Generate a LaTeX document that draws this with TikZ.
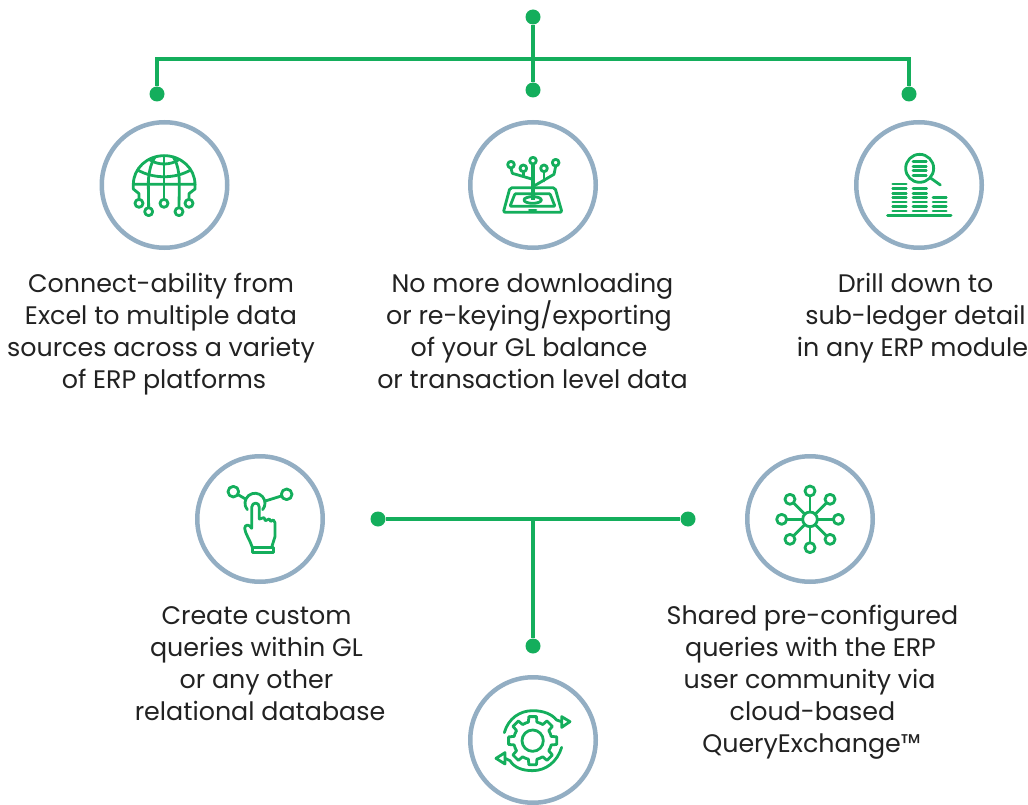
\documentclass[tikz,border=0pt]{standalone}
\usepackage{fontspec}
\usetikzlibrary{calc}
\setmainfont{Poppins}
\definecolor{grn}{HTML}{14AE5C}
\definecolor{ring}{HTML}{93AEC3}
\definecolor{ink}{HTML}{222222}
\tikzset{
  ringnode/.style={circle,draw=ring,line width=4.5pt,minimum size=125.5pt,inner sep=0pt,fill=white},
  dot/.style={circle,fill=grn,minimum size=15pt,inner sep=0pt},
  wire/.style={draw=grn,line width=4.5pt},
  label/.style={align=center,text=ink,font=\fontsize{25.35}{32}\selectfont,inner sep=0pt},
  ico/.style={draw=grn,line width=2.8pt,line join=round,line cap=round},
  zoomed/.style={x=0.3333pt,y=-0.3333pt}
}
\newcommand{\lft}[1]{\rule{#1pt}{0pt}}
\begin{document}
\begin{tikzpicture}[x=1pt,y=-1pt]
\useasboundingbox (0,0) rectangle (1028,805);
\fill[white] (0,0) rectangle (1028,805);
% rings
\node[ringnode] (c1) at (164.5,185) {};
\node[ringnode] (c2) at (533,185) {};
\node[ringnode] (c3) at (919,185) {};
\node[ringnode] (c4) at (260,519) {};
\node[ringnode] (c5) at (810,519) {};
\node[ringnode] (c6) at (533,740) {};
% connectors top
\node[dot] (top) at (533,17) {};
\node[dot] (d1) at (157,94) {};
\node[dot] (d2) at (533,90) {};
\node[dot] (d3) at (909,94) {};
\coordinate (hub) at (533,59);
\draw[wire] (top) -- (d2);
\draw[wire,line join=miter] (d1) |- (hub) -| (d3);
% connectors bottom
\node[dot] (l) at (378,519) {};
\node[dot] (r) at (688,519) {};
\node[dot] (b) at (533,646) {};
\coordinate (hub2) at (533,519);
\draw[wire] (l) -- (r);
\draw[wire] (hub2) -- (b);
% labels
\node[label] (t1) at (161,334) {Connect-ability from\\Excel to multiple data\\sources across a variety\\\lft{6}of ERP platforms};
\node[label] (t2) at (532.5,330.5) {No more downloading\\or re-keying/exporting\lft{7}\\of your GL balance\lft{7}\\or transaction level data};
\node[label] (t3) at (912.5,318) {\lft{6}Drill down to\\\lft{6}sub-ledger detail\\in any ERP module};
\node[label] (t4) at (260,663.5) {Create custom\lft{7}\\queries within GL\lft{7}\\or any other\lft{7}\\relational database};
\node[label] (t5) at (812.5,682.5) {Shared pre-configured\\queries with the ERP\lft{4}\\user community via\lft{6}\\cloud-based\\QueryExchange™\lft{2}};
% icon 1: globe
\begin{scope}[shift={(90,115)},zoomed]
\draw[ico] (130,208) arc[start angle=180,end angle=360,x radius=92.5,y radius=86] -- cycle;
\draw[ico] (222,122) -- (222,253);
\draw[ico] (195,126) .. controls (180,150) and (175,180) .. (175,208) -- (176,278);
\draw[ico] (250,126) .. controls (265,150) and (268,180) .. (268,208) -- (267,278);
\draw[ico] (143,165) .. controls (190,192) and (255,192) .. (302,165);
\draw[ico] (180,135) .. controls (205,151) and (240,151) .. (265,135);
\draw[ico] (130,208) -- (130,222) -- (147,236) -- (147,253);
\draw[ico] (315,208) -- (315,222) -- (297,236) -- (297,253);
\draw[ico] (147,265) circle[radius=12];
\draw[ico] (176,290) circle[radius=12];
\draw[ico] (222,265) circle[radius=12];
\draw[ico] (267,290) circle[radius=12];
\draw[ico] (297,265) circle[radius=12];
\end{scope}
% icon 2: tree on tablet
\begin{scope}[shift={(460,115)},zoomed]
\draw[ico,rounded corners=2pt] (150,218) -- (285,218) -- (306,292) -- (130,292) -- cycle;
\draw[ico,rounded corners=1pt] (165,236) -- (270,236) -- (285,274) -- (150,274) -- cycle;
\draw[ico] (218,255) ellipse[x radius=26,y radius=10];
\draw[ico] (208,285) -- (228,285);
\draw[ico,line width=3.8pt,line cap=butt] (218.5,147) -- (218.5,256);
\draw[ico] (153,160) -- (157,175) -- (215,192);
\draw[ico] (190,171) -- (190,184);
\draw[ico] (252,171) -- (252,198);
\draw[ico] (287,154) -- (282,178) -- (222,213);
\foreach \p in {(219,137),(153,149),(190,160),(252,160),(287,143)}
  \draw[ico] \p circle[radius=10];
\end{scope}
% icon 3: ledger stacks
\begin{scope}[shift={(845,115)},zoomed]
\draw[ico,line width=3pt] (128,301) -- (318,301);
\foreach \y in {207,221,235,248,261,275,288} \draw[ico,line width=2.6pt] (143,\y) -- (184,\y);
\foreach \y in {221,235,248,261,275,288} \draw[ico,line width=2.6pt] (204,\y) -- (245,\y);
\foreach \y in {247,261,275,288} \draw[ico,line width=2.6pt] (264,\y) -- (304,\y);
\foreach \y in {140,154,167,181} \draw[ico,line width=2.6pt] (204,\y) -- (244,\y);
\draw[ico] (224,160) circle[radius=42];
\draw[ico] (258,190) -- (286,210);
\end{scope}
% icon 4: hand
\begin{scope}[shift={(190,450)},zoomed]
\draw[ico] (130,125) circle[radius=16];
\draw[ico] (290,133) circle[radius=16];
\draw[ico] (146,135) -- (168,148);
\draw[ico] (274,138) -- (226,153);
\draw[ico] (172,179) arc[start angle=140,end angle=400,radius=30];
\draw[ico] (187,292) .. controls (180,270) and (165,250) .. (164,235) .. controls (165,222) and (178,222) .. (185,235)
  -- (185,172) .. controls (186,155) and (208,155) .. (208,172) -- (208,207) -- (222,203) -- (226,212) -- (238,207) -- (242,214) -- (250,210) .. controls (256,215) and (255,220) .. (255,225) -- (255,260) -- (245,292);
\draw[ico] (187,292) -- (250,292) -- (250,308) -- (187,308) -- cycle;
\end{scope}
% icon 5: network
\begin{scope}[shift={(740,450)},zoomed]
\draw[ico] (210,208) circle[radius=22];
\foreach \a/\r in {0/85,45/85,90/85,135/85,180/85,225/85,270/85,315/85}{
  \draw[ico] ($(210,208)+(\a:\r)$) circle[radius=15];
  \draw[ico] ($(210,208)+(\a:22)$) -- ($(210,208)+(\a:70)$);
}
\end{scope}
% icon 6: gear with arrows
\begin{scope}[shift={(460,670)},zoomed]
\draw[ico] (218,212) circle[radius=32];
\foreach \a in {0,45,...,315}{
  \draw[ico] ($(218,212)+(\a-22.5:57)$) -- ($(218,212)+(\a-13:57)$) -- ($(218,212)+(\a-9:73)$) -- ($(218,212)+(\a+9:73)$) -- ($(218,212)+(\a+13:57)$) -- ($(218,212)+(\a+22.5:57)$);
}
\draw[ico] (133,188) .. controls (145,145) and (180,122) .. (218,122) .. controls (250,122) and (275,132) .. (290,150) -- (305,155);
\draw[ico] (305,140) -- (330,155) -- (305,172) -- cycle;
\draw[ico] (305,232) .. controls (292,275) and (258,302) .. (218,302) .. controls (186,302) and (162,292) .. (150,272) -- (135,265);
\draw[ico] (135,248) -- (108,265) -- (135,282) -- cycle;
\end{scope}
\end{tikzpicture}
\end{document}
